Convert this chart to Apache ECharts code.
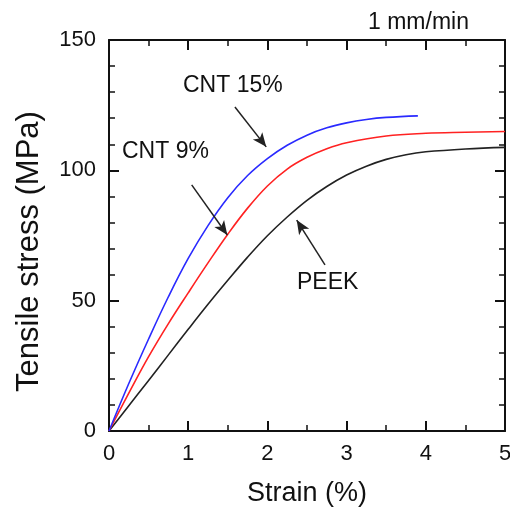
<!DOCTYPE html>
<html>
<head>
<meta charset="utf-8">
<script src="https://cdn.jsdelivr.net/npm/echarts@6/dist/echarts.min.js"></script>
<style>
html,body{margin:0;padding:0;background:#fff;}
#chart{width:510px;height:510px;}
</style>
</head>
<body>
<div id="chart"></div>
<script>
// Strain (%) and tensile stress (MPa)
const strainCNT15 = [0, 0.25, 0.5, 0.75, 1.0, 1.25, 1.5, 1.75, 2.0, 2.25, 2.5, 2.75, 3.0, 3.25, 3.5, 3.9];
const stressCNT15 = [0, 18.2, 35.3, 51.5, 66.2, 78.8, 89.5, 98, 104.5, 109.6, 113.5, 116.3, 118.2, 119.5, 120.3, 120.9];

const strainCNT9 = [0, 0.25, 0.5, 0.75, 1.0, 1.25, 1.5, 1.75, 2.0, 2.25, 2.5, 2.75, 3.0, 3.5, 4.0, 4.5, 5.0];
const stressCNT9 = [0, 14.5, 28.5, 41.2, 53, 64.5, 75.5, 85.5, 94, 100.5, 105, 108.3, 110.6, 113.2, 114.2, 114.6, 114.9];

const strainPEEK = [0, 0.25, 0.5, 0.75, 1.0, 1.25, 1.5, 1.75, 2.0, 2.25, 2.5, 2.75, 3.0, 3.25, 3.5, 3.75, 4.0, 4.5, 5.0];
const stressPEEK = [0, 9.7, 19.4, 29.2, 39, 48.6, 57.8, 66.7, 74.9, 82.1, 88.5, 93.8, 98.2, 101.6, 104.2, 106, 107.1, 108.2, 108.8];

// Annotation labels (text anchor: left-middle, data units)
const labelNames = ['CNT 15%', 'CNT 9%', 'PEEK'];
const labelX = [0.934, 0.164, 2.374];
const labelY = [132.3, 107.0, 56.8];

// Arrows: start -> tip (data units)
const arrowFromX = [1.59, 1.044, 2.727];
const arrowFromY = [124.3, 94.4, 63.7];
const arrowToX = [1.985, 1.494, 2.37];
const arrowToY = [109.0, 75.2, 80.9];

const xTicks = [0, 1, 2, 3, 4, 5];
const yTicks = [0, 50, 100, 150];
const rateLabel = '1 mm/min';

const zip = (a, b) => a.map((v, i) => [v, b[i]]);

const FONT = '"Liberation Sans", Arial, sans-serif';
const axisCommon = {
  axisLine: { show: true, onZero: false, lineStyle: { color: '#111', width: 2 } },
  axisTick: { show: true, inside: true, length: 10, lineStyle: { color: '#111', width: 2 } },
  minorTick: { show: true, length: 6, lineStyle: { color: '#111', width: 1.5 } },
  splitLine: { show: false }
};

const chart = echarts.init(document.getElementById('chart'), null, { renderer: 'canvas' });
chart.setOption({
  animation: false,
  backgroundColor: '#fff',
  title: {
    text: rateLabel, left: 363, top: 6,
    textStyle: { fontFamily: FONT, fontSize: 23, fontWeight: 'normal', color: '#111' }
  },
  grid: { left: 109, right: 5, top: 40, bottom: 79, containLabel: false, outerBoundsMode: 'none' },
  xAxis: [
    Object.assign({}, axisCommon, {
      type: 'value', position: 'bottom', min: xTicks[0], max: xTicks[xTicks.length - 1], interval: 1,
      minorTick: Object.assign({}, axisCommon.minorTick, { splitNumber: 2 }),
      axisLabel: { show: true, margin: 12, fontFamily: FONT, fontSize: 22, color: '#111' },
      name: 'Strain (%)', nameLocation: 'middle', nameGap: 49,
      nameTextStyle: { fontFamily: FONT, fontSize: 27, color: '#111' }
    }),
    Object.assign({}, axisCommon, {
      type: 'value', position: 'top', min: xTicks[0], max: xTicks[xTicks.length - 1], interval: 1,
      minorTick: Object.assign({}, axisCommon.minorTick, { splitNumber: 2 }),
      axisLabel: { show: false }
    })
  ],
  yAxis: [
    Object.assign({}, axisCommon, {
      type: 'value', position: 'left', min: yTicks[0], max: yTicks[yTicks.length - 1], interval: 50,
      minorTick: Object.assign({}, axisCommon.minorTick, { splitNumber: 5 }),
      axisLabel: { show: true, margin: 13, fontFamily: FONT, fontSize: 22, color: '#111' },
      name: 'Tensile stress (MPa)', nameLocation: 'middle', nameGap: 64, nameRotate: 90,
      nameTextStyle: { fontFamily: FONT, fontSize: 31, color: '#111', padding: [0, 32, 0, 0] }
    }),
    Object.assign({}, axisCommon, {
      type: 'value', position: 'right', min: yTicks[0], max: yTicks[yTicks.length - 1], interval: 50,
      minorTick: Object.assign({}, axisCommon.minorTick, { splitNumber: 5 }),
      axisLabel: { show: false }
    })
  ],
  series: [
    {
      name: 'PEEK', type: 'line', data: zip(strainPEEK, stressPEEK),
      showSymbol: false, smooth: 0.4,
      lineStyle: { color: '#222', width: 1.6 }, z: 3
    },
    {
      name: 'CNT 9%', type: 'line', data: zip(strainCNT9, stressCNT9),
      showSymbol: false, smooth: 0.4,
      lineStyle: { color: '#ff2222', width: 1.6 }, z: 3
    },
    {
      name: 'CNT 15%', type: 'line', data: zip(strainCNT15, stressCNT15),
      showSymbol: false, smooth: 0.4,
      lineStyle: { color: '#2a2aff', width: 1.6 }, z: 3
    },
    {
      name: 'annotations', type: 'scatter', data: [], silent: true, z: 5,
      markLine: {
        silent: true, animation: false,
        symbol: ['none', 'arrow'], symbolSize: [9, 14],
        lineStyle: { color: '#222', width: 1.5, type: 'solid' },
        label: { show: false },
        data: arrowFromX.map((x, i) => [
          { coord: [x, arrowFromY[i]] },
          { coord: [arrowToX[i], arrowToY[i]] }
        ])
      },
      markPoint: {
        silent: true, animation: false,
        symbol: 'circle', symbolSize: 0,
        itemStyle: { color: 'transparent' },
        label: {
          show: true, position: 'right', distance: 0,
          formatter: (p) => p.name,
          fontFamily: FONT, fontSize: 23, color: '#111'
        },
        data: labelNames.map((n, i) => ({ name: n, coord: [labelX[i], labelY[i]] }))
      }
    }
  ]
});
</script>
</body>
</html>
